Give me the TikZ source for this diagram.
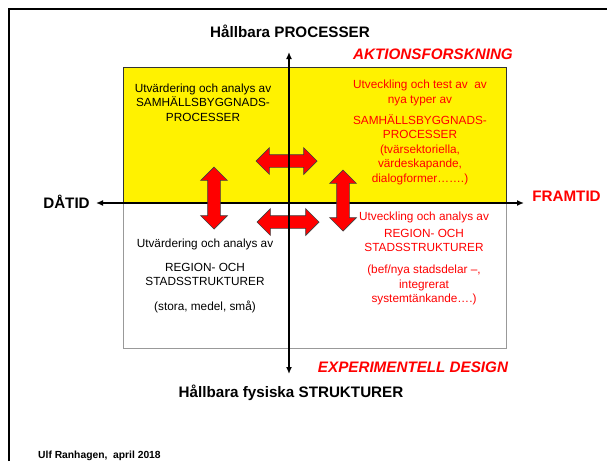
\documentclass[tikz,border=0pt]{standalone}
\usepackage{fontspec}
\setmainfont{Liberation Sans}
\usetikzlibrary{arrows.meta,shapes.arrows}

\tikzset{
  headtxt/.style={inner sep=0pt,anchor=base,font=\bfseries\fontsize{15.2}{18}\selectfont},
  quadtxt/.style={inner sep=0pt,anchor=north,align=center,font=\fontsize{11.8}{14.5}\selectfont},
  dblarrow/.style={double arrow,draw=black!75,fill=red,line width=0.7pt,
    minimum height=61pt,double arrow head extend=7pt,inner xsep=0pt,inner ysep=6pt},
  axis/.style={line width=1.8pt,>={Latex[length=7pt,width=6pt]}}
}

\begin{document}
\begin{tikzpicture}[x=1pt,y=-1pt]
\useasboundingbox (0,0) rectangle (607,461);
\draw[line width=2pt] (9,461) -- (9,9) -- (607,9);

% the two halves
\draw[gray!80,line width=1pt,fill=white] (123,203) rectangle (506,348);
\draw[black!80,line width=1pt,fill=yellow] (123,67) rectangle (506,203);

\coordinate (past) at (96,203);
\coordinate (future) at (524,203);
\coordinate (proc) at (289,52);
\coordinate (struct) at (289,374);
\draw[axis,<->] (past) -- (future);

% arrows between the fields
\node[dblarrow] (hup) at (286.5,161) {};
\node[dblarrow,minimum height=62pt] (hlow) at (288,222) {};
\node[dblarrow,minimum height=62pt,rotate=90] (vleft) at (214,198) {};
\node[dblarrow,rotate=90] (vright) at (343,200.5) {};

\draw[axis,<->] (struct) -- (proc);

% axis texts
\node[headtxt] (proclbl) at (290,37) {Hållbara PROCESSER};
\node[headtxt] (structlbl) at (291,397) {Hållbara fysiska STRUKTURER};
\node[headtxt] (pastlbl) at (66.5,208) {DÅTID};
\node[headtxt,red] (futurelbl) at (566.5,201) {FRAMTID};
\node[headtxt,red,font=\bfseries\itshape\fontsize{15.2}{18}\selectfont] (aktion) at (433,59) {AKTIONSFORSKNING};
\node[headtxt,red,font=\bfseries\itshape\fontsize{15.2}{18}\selectfont] (expdes) at (413,372) {EXPERIMENTELL DESIGN};

% quadrant texts
\node[quadtxt] (ul) at (203,83.6) {Utvärdering och analys av\\SAMHÄLLSBYGGNADS-\\PROCESSER};
\node[quadtxt,red] (ur) at (420,79.9) {Utveckling och test av\ \ av\\nya typer av\\[6.5pt]
  SAMHÄLLSBYGGNADS-\\PROCESSER\\(tvärsektoriella,\\värdeskapande,\\dialogformer…….)};
\node[quadtxt] (ll) at (205,238.6) {Utvärdering och analys av\\[9.5pt]REGION- OCH\\STADSSTRUKTURER\\[10.5pt](stora, medel, små)};
\node[quadtxt,red] (lr) at (424,211.6) {Utveckling och analys av\\[2.5pt]REGION- OCH\\STADSSTRUKTURER\\[7.5pt]
  (bef/nya stadsdelar –,\\integrerat\\systemtänkande….)};

\node[inner sep=0pt,anchor=base west,font=\bfseries\fontsize{10.3}{12}\selectfont] (author) at (38,458.5) {Ulf Ranhagen,\ \ april 2018};
\end{tikzpicture}
\end{document}
